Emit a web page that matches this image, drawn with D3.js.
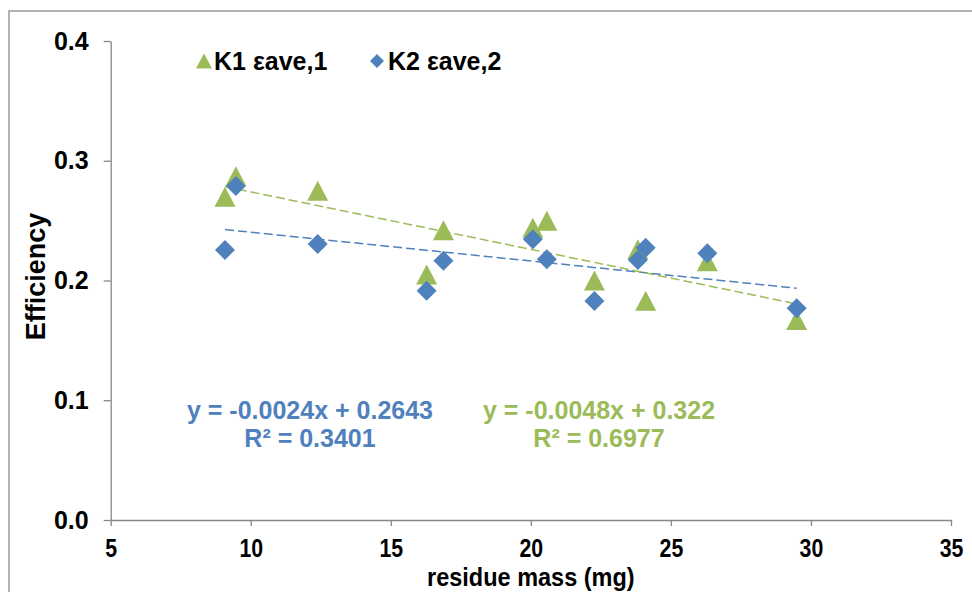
<!DOCTYPE html>
<html>
<head>
<meta charset="utf-8">
<script src="https://cdn.jsdelivr.net/npm/d3@7/dist/d3.min.js"></script>
<style>
  html, body { margin: 0; padding: 0; background: #fff; }
  svg { display: block; }
  text { font-family: Arial, "Liberation Sans", sans-serif; font-weight: bold; }
</style>
</head>
<body>
<svg id="chart" width="972" height="592"></svg>
<script>
// residue mass (mg) of each sample
const mass = [9.08, 9.47, 12.39, 16.28, 16.88, 20.07, 20.57, 22.27, 23.82, 24.1, 26.3, 29.49];
// efficiency for K1 (εave,1) and K2 (εave,2)
const k1 = [0.270, 0.287, 0.275, 0.205, 0.242, 0.244, 0.250, 0.200, 0.226, 0.183, 0.216, 0.167];
const k2 = [0.2255, 0.279, 0.2305, 0.1915, 0.2165, 0.2344, 0.2177, 0.1829, 0.2171, 0.2274, 0.2227, 0.1768];
const xTicks = [5, 10, 15, 20, 25, 30, 35];
const yTicks = [0, 0.1, 0.2, 0.3, 0.4];
// linear fits: [slope, intercept, R²]
const fitK1 = [-0.0048, 0.322, 0.6977];
const fitK2 = [-0.0024, 0.2643, 0.3401];

const green = "#9BBB59", blue = "#4F81BD";
const svg = d3.select("#chart");

// outer chart-area frame
svg.append("rect").attr("x", 9).attr("y", 11).attr("width", 1000).attr("height", 1000)
  .attr("fill", "none").attr("stroke", "#b3b3b3").attr("stroke-width", 2);

const x = d3.scaleLinear().domain([5, 35]).range([110.7, 951]);
const y = d3.scaleLinear().domain([0, 0.4]).range([520, 41]);

const axisColor = "#868686";
const gx = svg.append("g").attr("transform", `translate(0,${y(0)})`)
  .call(d3.axisBottom(x).tickValues(xTicks).tickSize(6).tickSizeOuter(0).tickFormat(d3.format("d")));
const gy = svg.append("g").attr("transform", `translate(${x(5)},0)`)
  .call(d3.axisLeft(y).tickValues(yTicks).tickSize(7).tickSizeOuter(0).tickFormat(d3.format(".1f")));
[gx, gy].forEach(g => {
  g.select(".domain").attr("stroke", axisColor).attr("stroke-width", 1.3);
  g.selectAll(".tick line").attr("stroke", axisColor).attr("stroke-width", 1.3);
  g.selectAll("text").attr("fill", "#000").style("font-weight", "bold");
});
// condensed bold numerals on the mass axis
gx.selectAll("text").attr("dy", 0).attr("y", 37).style("font-size", "26px")
  .attr("transform", "scale(0.82,1)");
gy.selectAll("text").attr("x", -22).style("font-size", "25px");

// axis titles
svg.append("g").attr("transform", `translate(${x(20)},586) scale(0.94,1)`)
  .append("text").attr("text-anchor", "middle").style("font-size", "25px")
  .text("residue mass (mg)");
svg.append("text").attr("transform", `translate(45,${y(0.2) - 4}) rotate(-90)`)
  .attr("text-anchor", "middle").style("font-size", "27px").text("Efficiency");

// trend lines over the sampled mass range
const xMin = d3.min(mass), xMax = d3.max(mass);
function trend(fit, color) {
  svg.append("line")
    .attr("x1", x(xMin)).attr("y1", y(fit[0] * xMin + fit[1]))
    .attr("x2", x(xMax)).attr("y2", y(fit[0] * xMax + fit[1]))
    .attr("stroke", color).attr("stroke-width", 1.5).attr("stroke-dasharray", "9,4");
}
trend(fitK2, blue);
trend(fitK1, green);

// triangle marker centred on its bounding box
function triangle(w, h) {
  const p = d3.path();
  p.moveTo(0, -h / 2); p.lineTo(w / 2, h / 2); p.lineTo(-w / 2, h / 2); p.closePath();
  return p.toString();
}
function diamond(s) {
  const p = d3.path();
  p.moveTo(0, -s / 2); p.lineTo(s / 2, 0); p.lineTo(0, s / 2); p.lineTo(-s / 2, 0); p.closePath();
  return p.toString();
}

// markers
svg.append("g").selectAll("path").data(mass).join("path")
  .attr("d", triangle(21, 20)).attr("fill", green)
  .attr("transform", (d, i) => `translate(${x(d)},${y(k1[i])})`);
svg.append("g").selectAll("path").data(mass).join("path")
  .attr("d", diamond(20)).attr("fill", blue)
  .attr("transform", (d, i) => `translate(${x(d)},${y(k2[i])})`);

// legend
svg.append("path").attr("d", triangle(16, 15)).attr("fill", green).attr("transform", "translate(204,61)");
svg.append("text").attr("x", 214).attr("y", 70).style("font-size", "25px").text("K1 εave,1");
svg.append("path").attr("d", diamond(14)).attr("fill", blue).attr("transform", "translate(377,61)");
svg.append("text").attr("x", 388).attr("y", 70).style("font-size", "25px").text("K2 εave,2");

// fit equations
function fmtEq(fit) { return `y = ${fit[0]}x + ${fit[1]}`; }
function eqLabel(fit, cx, color) {
  svg.append("text").attr("x", cx).attr("y", 419).attr("text-anchor", "middle")
    .attr("fill", color).style("font-size", "25px").text(fmtEq(fit));
  svg.append("text").attr("x", cx).attr("y", 447).attr("text-anchor", "middle")
    .attr("fill", color).style("font-size", "25px").text(`R² = ${fit[2]}`);
}
eqLabel(fitK2, 310, blue);
eqLabel(fitK1, 599, green);
</script>
</body>
</html>
